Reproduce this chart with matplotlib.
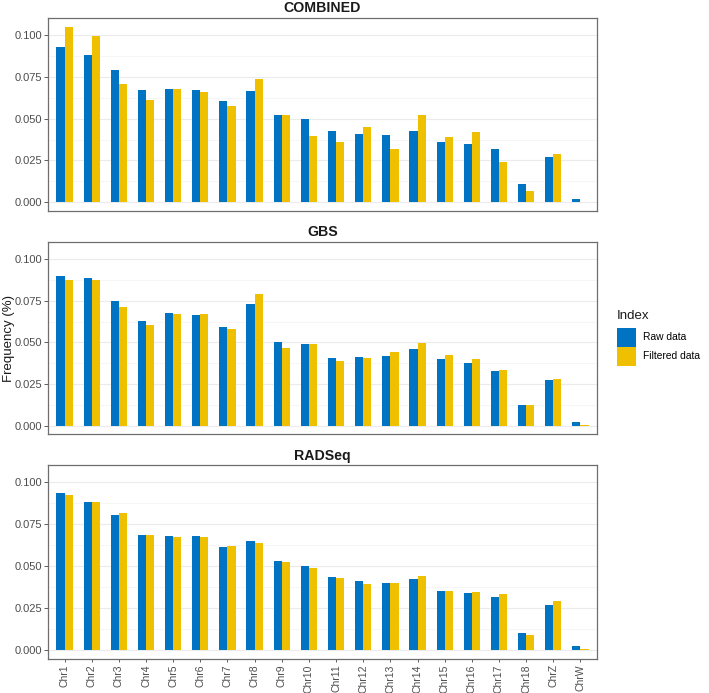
import matplotlib
matplotlib.use("Agg")
import matplotlib.pyplot as plt
import numpy as np
from matplotlib.patches import Patch

plt.rcParams['font.family'] = ['Liberation Sans', 'DejaVu Sans']

chromosomes = ["Chr1", "Chr2", "Chr3", "Chr4", "Chr5", "Chr6", "Chr7", "Chr8", "Chr9", "Chr10",
               "Chr11", "Chr12", "Chr13", "Chr14", "Chr15", "Chr16", "Chr17", "Chr18", "ChrZ", "ChrW"]
panels = ["COMBINED", "GBS", "RADSeq"]
series_names = ["Raw data", "Filtered data"]

combined_raw = [0.0928, 0.0881, 0.0789, 0.0670, 0.0678, 0.0672, 0.0608, 0.0666, 0.0521, 0.0499,
                0.0427, 0.0410, 0.0402, 0.0427, 0.0360, 0.0348, 0.0318, 0.0107, 0.0268, 0.0022]
combined_filtered = [0.1050, 0.0994, 0.0708, 0.0610, 0.0680, 0.0658, 0.0575, 0.0736, 0.0525, 0.0394,
                     0.0358, 0.0451, 0.0316, 0.0525, 0.0392, 0.0421, 0.0241, 0.0070, 0.0288, 0.0]
gbs_raw = [0.0901, 0.0885, 0.0748, 0.0630, 0.0674, 0.0664, 0.0594, 0.0730, 0.0501, 0.0487,
           0.0408, 0.0412, 0.0416, 0.0461, 0.0400, 0.0376, 0.0330, 0.0121, 0.0276, 0.0020]
gbs_filtered = [0.0875, 0.0873, 0.0714, 0.0606, 0.0670, 0.0670, 0.0577, 0.0789, 0.0467, 0.0491,
                0.0388, 0.0404, 0.0443, 0.0495, 0.0421, 0.0398, 0.0336, 0.0121, 0.0282, 0.0004]
radseq_raw = [0.0940, 0.0883, 0.0807, 0.0686, 0.0682, 0.0678, 0.0614, 0.0648, 0.0529, 0.0503,
              0.0437, 0.0410, 0.0400, 0.0421, 0.0350, 0.0340, 0.0316, 0.0103, 0.0266, 0.0024]
radseq_filtered = [0.0928, 0.0883, 0.0815, 0.0688, 0.0676, 0.0676, 0.0618, 0.0638, 0.0527, 0.0491,
                   0.0429, 0.0394, 0.0402, 0.0439, 0.0354, 0.0348, 0.0336, 0.0089, 0.0294, 0.0008]

data = {
    "COMBINED": (combined_raw, combined_filtered),
    "GBS": (gbs_raw, gbs_filtered),
    "RADSeq": (radseq_raw, radseq_filtered),
}

colors = ["#0073C2", "#EFC000"]

W, H = 709, 693
fig = plt.figure(figsize=(W / 100, H / 100), dpi=100)

left_px, right_px = 48.3, 596.7
panel_px = [(18, 211), (242, 434.3), (465.3, 658.7)]

x = np.arange(len(chromosomes))
bw = 0.3
ymax_data = 0.105
ylo, yhi = -0.05 * ymax_data, 1.05 * ymax_data

for i, (name, (top, bot)) in enumerate(zip(panels, panel_px)):
    ax = fig.add_axes([left_px / W, 1 - bot / H, (right_px - left_px) / W, (bot - top) / H])
    raw, filt = data[name]
    ax.bar(x - bw / 2, raw, width=bw, color=colors[0], zorder=3, linewidth=0)
    ax.bar(x + bw / 2, filt, width=bw, color=colors[1], zorder=3, linewidth=0)
    ax.set_xlim(-0.6, len(chromosomes) - 1 + 0.6)
    ax.set_ylim(ylo, yhi)
    major = [0, 0.025, 0.05, 0.075, 0.1]
    ax.set_yticks(major)
    ax.set_yticklabels(["0.000", "0.025", "0.050", "0.075", "0.100"])
    ax.set_yticks([0.0125, 0.0375, 0.0625, 0.0875], minor=True)
    ax.grid(axis='y', which='major', color='#EBEBEB', linewidth=0.8, zorder=0)
    ax.grid(axis='y', which='minor', color='#F3F3F3', linewidth=0.5, zorder=0)
    ax.tick_params(axis='y', which='major', length=2.7, width=0.6, color='#444444',
                   labelsize=8, labelcolor='#4D4D4D', pad=2)
    ax.tick_params(axis='y', which='minor', length=0)
    for s in ax.spines.values():
        s.set_color('#6E6E6E')
        s.set_linewidth(0.9)
    ax.set_title(name, fontsize=10.2, fontweight='bold', pad=4, color='#1A1A1A')
    ax.set_xticks(x)
    if i == len(panels) - 1:
        ax.set_xticklabels(chromosomes, rotation=90, fontsize=7.5, color='#4D4D4D')
        ax.tick_params(axis='x', length=2.5, width=0.6, color='#444444', pad=1.5)
    else:
        ax.set_xticklabels([])
        ax.tick_params(axis='x', length=0)

fig.text(9 / W, 1 - 338 / H, "Frequency (%)", rotation=90, ha='center', va='center',
         fontsize=9.5, color='#1A1A1A')

fig.text(617 / W, 1 - 319 / H, "Index", ha='left', va='baseline', fontsize=9.5, color='#1A1A1A')
handles = [Patch(facecolor=c, edgecolor='none', label=l) for c, l in zip(colors, series_names)]
leg = fig.legend(handles=handles, loc='upper left',
                 bbox_to_anchor=(617 / W, 1 - 327.5 / H), frameon=False,
                 fontsize=7.4, handlelength=1.85, handleheight=2.47,
                 labelspacing=0.0, handletextpad=0.7, borderaxespad=0, borderpad=0)

fig.savefig("out.png", dpi=100)
